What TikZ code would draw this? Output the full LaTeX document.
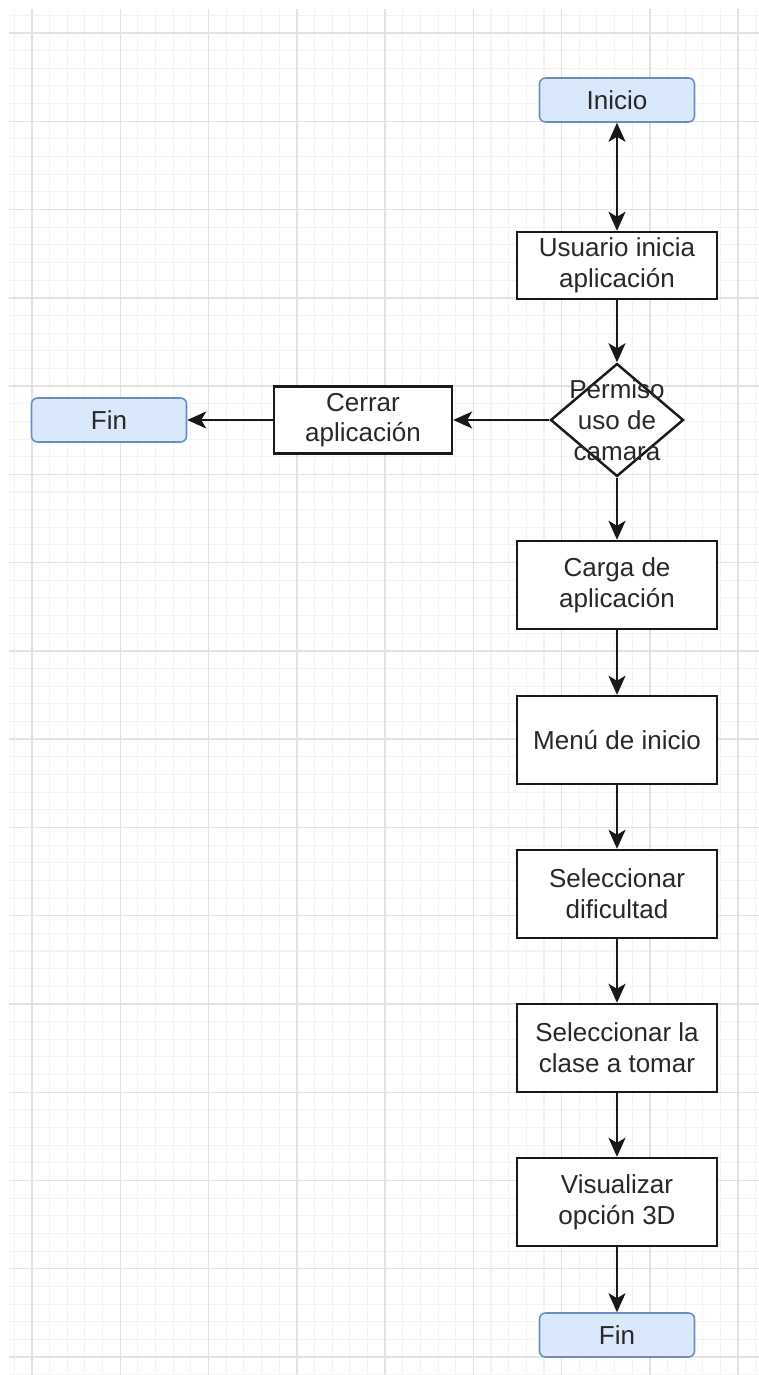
\documentclass[tikz,border=0pt]{standalone}
\usepackage{fontspec}
\setmainfont{Liberation Sans}
\usetikzlibrary{shapes.geometric,arrows.meta}
\definecolor{termfill}{RGB}{218,232,252}
\definecolor{termline}{RGB}{108,142,191}
\definecolor{gridminor}{RGB}{243,243,243}
\definecolor{gridmajor}{RGB}{226,226,226}
\definecolor{txt}{RGB}{40,40,40}
\begin{document}
\begin{tikzpicture}[x=0.02cm, y=-0.02cm,
	font=\fontsize{14.8}{17.5}\selectfont,
	>={Stealth[length=0.38cm, width=0.34cm, inset=0.1cm]},
	terminal/.style={draw=termline, fill=termfill, rounded corners=0.12cm, line width=0.9pt, minimum width=3.1cm, minimum height=0.88cm, inner sep=0pt, text=txt},
	process/.style={draw=black!90, fill=white, line width=1.4pt, minimum width=4cm, minimum height=1.76cm, align=center, inner sep=0pt, text=txt},
	decision/.style={diamond, draw=black!90, fill=white, line width=1.4pt, minimum width=2.66cm, minimum height=2.26cm, inner sep=0pt},
	flow/.style={->, draw=black!90, line width=1.4pt}]
	\useasboundingbox (0,0) rectangle (759,1375);
	\fill[white] (0,0) rectangle (759,1375);
	\foreach \i in {-1,...,41}
		\draw[gridminor, line width=0.6pt] ({32+17.654*\i},9) -- ({32+17.654*\i},1375);
	\foreach \i in {-1,...,76}
		\draw[gridminor, line width=0.6pt] (9,{33+17.654*\i}) -- (759,{33+17.654*\i});
	\foreach \i in {0,...,8}
		\draw[gridmajor, line width=0.8pt] ({32+88.27*\i},9) -- ({32+88.27*\i},1375);
	\foreach \i in {0,...,15}
		\draw[gridmajor, line width=0.8pt] (9,{33+88.27*\i}) -- (759,{33+88.27*\i});
	\node[terminal] (inicio) at (617,100) {Inicio};
	\node[process, minimum height=1.34cm] (usuario) at (617,265.5) {Usuario inicia\\aplicación};
	\node[decision, label={[align=center, text=txt]center:Permiso\\uso de\\camara}] (permiso) at (617,420) {};
	\node[process, minimum width=3.56cm, minimum height=1.34cm] (cerrar) at (363,420) {Cerrar\\aplicación};
	\node[terminal] (fin1) at (109,420) {Fin};
	\node[process] (carga) at (617,585) {Carga de\\aplicación};
	\node[process] (menu) at (617,740) {Menú de inicio};
	\node[process] (dificultad) at (617,894) {Seleccionar\\dificultad};
	\node[process] (clase) at (617,1048) {Seleccionar la\\clase a tomar};
	\node[process] (visualizar) at (617,1202) {Visualizar\\opción 3D};
	\node[terminal] (fin2) at (617,1335) {Fin};
	\draw[flow, <->] (inicio) -- (usuario);
	\draw[flow] (usuario) -- (permiso);
	\draw[flow] (permiso) -- (cerrar);
	\draw[flow] (cerrar) -- (fin1);
	\draw[flow] (permiso) -- (carga);
	\draw[flow] (carga) -- (menu);
	\draw[flow] (menu) -- (dificultad);
	\draw[flow] (dificultad) -- (clase);
	\draw[flow] (clase) -- (visualizar);
	\draw[flow] (visualizar) -- (fin2);
\end{tikzpicture}
\end{document}
